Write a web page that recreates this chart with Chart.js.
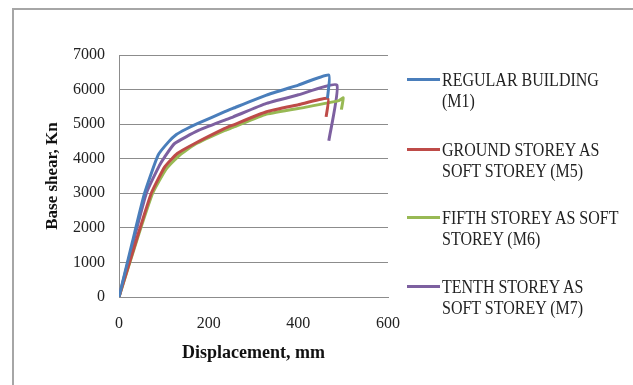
<!DOCTYPE html>
<html>
<head>
<meta charset="utf-8">
<script src="https://cdn.jsdelivr.net/npm/chart.js@4.4.1/dist/chart.umd.min.js"></script>
<style>
  html, body { margin: 0; padding: 0; background: #fff; overflow: hidden; width: 633px; height: 385px; }
  #ftop { position: absolute; left: 12px; top: 8px; width: 621px; height: 2px; background: #a6a6a6; }
  #fleft { position: absolute; left: 12px; top: 8px; width: 2px; height: 377px; background: #a6a6a6; }
  #wrap { position: absolute; left: 0; top: 0; width: 633px; height: 385px; }
  #legend { position: absolute; left: 407px; top: 0; font-family: "Liberation Serif", "Times New Roman", serif; font-size: 16px; color: #222; }
  .item { position: absolute; left: 0; white-space: nowrap; }
  .mark { position: absolute; left: 0; width: 33px; height: 3px; }
  .txt { position: absolute; left: 35px; line-height: 18.2px; transform: scaleY(1.18); transform-origin: 0 9.1px; }
</style>
</head>
<body>
<div id="ftop"></div>
<div id="fleft"></div>
<div id="wrap"><canvas id="c" width="633" height="385"></canvas></div>
<div id="legend"></div>
<script>
// ---- data ----
const seriesNames = ["REGULAR BUILDING (M1)", "GROUND STOREY AS SOFT STOREY (M5)", "FIFTH STOREY AS SOFT STOREY (M6)", "TENTH STOREY AS SOFT STOREY (M7)"];
const legendLines = [["REGULAR BUILDING", "(M1)"], ["GROUND STOREY AS", "SOFT STOREY (M5)"], ["FIFTH STOREY AS SOFT", "STOREY (M6)"], ["TENTH STOREY AS", "SOFT STOREY (M7)"]];
const colors = ["#4a7ebb", "#be4b48", "#98b954", "#7d60a0"];

const m1X = [0, 30, 57, 87, 110, 128, 150, 176, 236, 254, 329, 400, 468, 465];
const m1Y = [0, 1600, 3000, 4100, 4480, 4700, 4860, 5020, 5360, 5455, 5840, 6130, 6420, 5750];

const m5X = [0, 40, 72, 102, 130, 169, 236, 254, 329, 400, 466, 462];
const m5Y = [0, 1700, 3000, 3765, 4150, 4440, 4877, 4972, 5358, 5560, 5745, 5213];

const m6X = [0, 40, 75, 105, 135, 170, 236, 254, 329, 420, 490, 500, 496];
const m6Y = [0, 1650, 3000, 3700, 4100, 4420, 4820, 4905, 5290, 5500, 5680, 5760, 5420];

const m7X = [0, 35, 61, 90, 102, 124, 176, 236, 254, 329, 400, 486, 468];
const m7Y = [0, 1750, 3000, 3800, 4055, 4440, 4810, 5117, 5205, 5600, 5850, 6130, 4518];

const xTicks = [0, 200, 400, 600];
const yTicks = [0, 1000, 2000, 3000, 4000, 5000, 6000, 7000];

const allX = [m1X, m5X, m6X, m7X];
const allY = [m1Y, m5Y, m6Y, m7Y];

const datasets = allX.map((xs, i) => ({
  label: seriesNames[i],
  data: xs.map((x, k) => ({ x: x, y: allY[i][k] })),
  borderColor: colors[i],
  backgroundColor: colors[i],
  borderWidth: 3,
  pointRadius: 0,
  tension: 0.15,
  showLine: true,
  fill: false
}));

const font = "'Liberation Serif', 'Times New Roman', serif";

new Chart(document.getElementById('c'), {
  type: 'scatter',
  data: { datasets: datasets },
  options: {
    responsive: false,
    animation: false,
    layout: { padding: { left: 0, top: 55, right: 245, bottom: 0 } },
    plugins: { legend: { display: false }, tooltip: { enabled: false } },
    scales: {
      x: {
        type: 'linear', min: 0, max: 600,
        afterBuildTicks: s => { s.ticks = xTicks.map(v => ({ value: v })); },
        afterFit: s => { s.height = 88; },
        grid: { display: false, drawTicks: false },
        border: { display: true, color: '#8c8c8c', width: 1 },
        ticks: { color: '#222', font: { family: font, size: 16 }, padding: 17, maxRotation: 0, callback: v => String(v) },
        title: { display: true, text: 'Displacement, mm', color: '#111', font: { family: font, size: 18, weight: 'bold' }, padding: { top: 0, bottom: 21 } }
      },
      y: {
        type: 'linear', min: 0, max: 7000,
        afterBuildTicks: s => { s.ticks = yTicks.map(v => ({ value: v })); },
        afterFit: s => { s.width = 119; },
        grid: { color: '#8c8c8c', lineWidth: 1, drawTicks: false },
        border: { display: true, color: '#8c8c8c', width: 1 },
        ticks: { color: '#222', font: { family: font, size: 16 }, padding: 14, callback: v => String(v) },
        title: { display: true, text: 'Base shear, Kn', color: '#111', font: { family: font, size: 17, weight: 'bold' }, padding: { top: 42, bottom: 0 } }
      }
    }
  }
});

// HTML legend built from the same series definitions
const legendTops = [80, 150, 218, 287];
const lg = document.getElementById('legend');
legendLines.forEach((lines, i) => {
  const item = document.createElement('div');
  item.className = 'item';
  item.style.top = legendTops[i] + 'px';
  const mk = document.createElement('div');
  mk.className = 'mark';
  mk.style.background = colors[i];
  mk.style.top = '-2px';
  const tx = document.createElement('div');
  tx.className = 'txt';
  tx.style.top = '-9px';
  tx.innerHTML = lines.join('<br>');
  item.appendChild(mk);
  item.appendChild(tx);
  lg.appendChild(item);
});
</script>
</body>
</html>
